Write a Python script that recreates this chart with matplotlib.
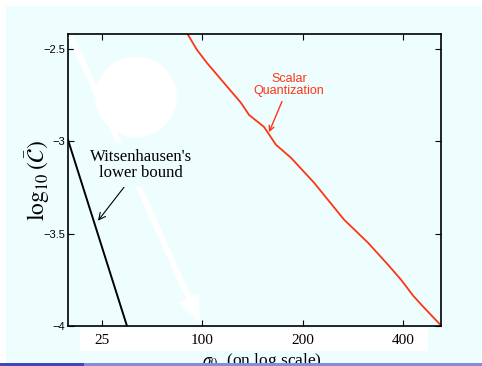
import matplotlib
matplotlib.use("Agg")
import matplotlib.pyplot as plt
from matplotlib.patches import Rectangle, Ellipse, FancyArrowPatch

plt.rcParams['mathtext.fontset'] = 'stix'

BG = '#eefefe'
RED = '#ff3414'

# x is the position along the (log-scale) sigma_0 axis, one unit per labelled tick
tick_pos = [1, 2, 3, 4]
tick_labels = ['25', '100', '200', '400']
y_ticks = [-4, -3.5, -3, -2.5]
y_tick_labels = ['\u22124', '\u22123.5', '\u22123', '\u22122.5']

# Witsenhausen's lower bound
lb_x = [0.661, 1.249]
lb_y = [-2.992, -4.0]

# scalar quantization
sq_x = [1.847, 1.947, 2.047, 2.386, 2.466, 2.615, 2.735, 2.884, 3.114,
        3.413, 3.652, 3.851, 3.981, 4.101, 4.210, 4.380]
sq_y = [-2.414, -2.505, -2.576, -2.792, -2.857, -2.922, -3.019, -3.089, -3.224,
        -3.424, -3.549, -3.668, -3.749, -3.835, -3.900, -3.997]

W, H = 482, 366
fig = plt.figure(figsize=(W / 100, H / 100), dpi=100)
fig.patch.set_facecolor(BG)


def px_rect(x0, y0, x1, y1, color, z=-1):
    # rectangle given in pixel coords from the top left
    fig.patches.append(Rectangle((x0 / W, 1 - y1 / H), (x1 - x0) / W, (y1 - y0) / H,
                                 transform=fig.transFigure, facecolor=color,
                                 edgecolor='none', zorder=z))


px_rect(0, 0, W, 6, 'white')
px_rect(0, 0, 6, H, 'white')
px_rect(80, 328, 428, 351, 'white')

ax = fig.add_axes([68 / W, 1 - 326 / H, 373 / W, 292 / H])
ax.set_facecolor(BG)

ax.plot(lb_x, lb_y, color='black', lw=1.4)
ax.plot(sq_x, sq_y, color=RED, lw=1.3)

ax.set_xlim(0.661, 4.380)
ax.set_ylim(-4.0, -2.419)
ax.set_xticks(tick_pos)
ax.set_xticklabels(tick_labels, family='Liberation Serif', fontsize=11)
ax.set_yticks(y_ticks)
ax.set_yticklabels(y_tick_labels, family='Liberation Sans', fontsize=8)
ax.tick_params(direction='in', length=4, width=0.8, top=True, right=True)
ax.tick_params(axis='x', pad=6)
ax.tick_params(axis='y', pad=2)
for s in ax.spines.values():
    s.set_linewidth(1.2)

# slide overlays: white circle and white arrow
ax.add_patch(Ellipse((136 / W, 1 - 97 / H), 82 / W, 80 / H,
                     transform=fig.transFigure, facecolor='white',
                     edgecolor='none', zorder=5, clip_on=False))
ax.add_patch(FancyArrowPatch((70 / W, 1 - 34 / H), (201 / W, 1 - 325 / H),
                             transform=fig.transFigure, color='white', lw=0,
                             arrowstyle='simple,head_length=1.6,head_width=1.3,tail_width=0.35',
                             mutation_scale=12, zorder=6, clip_on=False))

ax.annotate("Witsenhausen's\nlower bound", xy=(0.960, -3.430), xytext=(1.389, -3.13),
            ha='center', va='center', family='Liberation Serif', fontsize=12,
            linespacing=1.0, zorder=8,
            bbox=dict(boxstyle='square,pad=0.35', facecolor=BG, edgecolor='none'),
            arrowprops=dict(arrowstyle='->', color='black', lw=0.8,
                            shrinkA=0, shrinkB=0))
ax.annotate("Scalar\nQuantization", xy=(2.665, -2.951), xytext=(2.864, -2.695),
            ha='center', va='center', family='Liberation Sans', fontsize=9,
            color=RED, linespacing=1.1, zorder=8,
            arrowprops=dict(arrowstyle='->', color=RED, lw=1.0,
                            shrinkA=1, shrinkB=0))

ax.set_ylabel(r'$\log_{10}(\bar{\mathcal{C}})$', fontsize=17)
ax.yaxis.set_label_coords(-0.043, 0.5)

fig.text(262 / W, 1 - 361 / H, r'$\sigma_0$  (on log scale)', ha='center', va='center',
         family='Liberation Serif', fontsize=12.5)

px_rect(0, 363, 84, H, '#4444bb', z=10)
px_rect(84, 363, W, H, '#8a8ad8', z=10)

fig.savefig('out.png', dpi=100, facecolor=fig.get_facecolor())
